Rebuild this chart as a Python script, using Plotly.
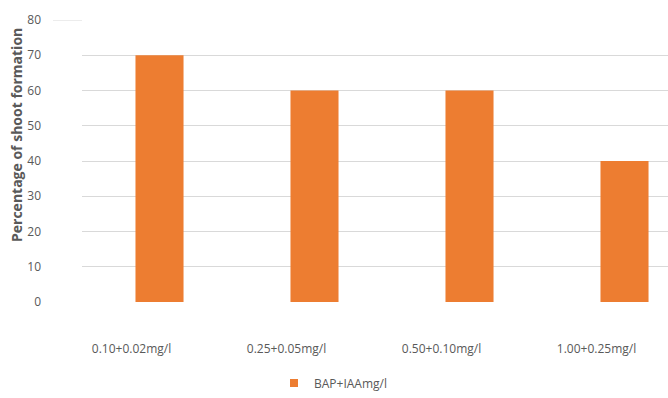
import plotly.graph_objects as go

categories = ["0.10+0.02mg/l", "0.25+0.05mg/l", "0.50+0.10mg/l", "1.00+0.25mg/l"]
values = [70, 60, 60, 40]
series_name = "BAP+IAAmg/l"
y_ticks = [0, 10, 20, 30, 40, 50, 60, 70, 80]

W, H = 668, 398
L, T, B = 82, 20, 96
plot_w = W - L
plot_h = H - T - B
cat_px = 155.0
label_shift = 28 / cat_px  # tick labels sit left of the bars in the reference

font_fam = "Open Sans, Liberation Sans, sans-serif"
gray = "#595959"
bar_color = "#ED7D31"

fig = go.Figure()
fig.add_trace(go.Bar(
    x=categories, y=values, name=series_name,
    marker=dict(color=bar_color, line=dict(width=0)),
    width=0.31, showlegend=False, xaxis="x", yaxis="y",
))
# label-only axis carrier (invisible)
fig.add_trace(go.Scatter(
    x=categories, y=values, mode="none", xaxis="x2", yaxis="y",
    hoverinfo="skip", showlegend=False,
))
# legend entry with a small square swatch
fig.add_trace(go.Scatter(
    x=[categories[0]], y=[None], mode="markers", name=series_name,
    marker=dict(symbol="square", size=8, color=bar_color),
    xaxis="x", yaxis="y", showlegend=True, hoverinfo="skip",
))

x_range = [-0.5, -0.5 + plot_w / cat_px]

fig.update_layout(
    width=W, height=H,
    margin=dict(l=L, r=0, t=T, b=B, pad=0, autoexpand=False),
    paper_bgcolor="white", plot_bgcolor="white",
    font=dict(family=font_fam, size=12, color=gray),
    legend=dict(
        orientation="h", xref="container", yref="container",
        x=274 / W, xanchor="left", y=1 - 383 / H, yanchor="middle",
        font=dict(size=12, color=gray), itemwidth=30,
    ),
    xaxis=dict(
        range=x_range, automargin=False, showticklabels=False,
        showgrid=False, zeroline=False, showline=False, ticks="",
    ),
    xaxis2=dict(
        range=[x_range[0] + label_shift, x_range[1] + label_shift],
        overlaying="x", side="bottom", automargin=False,
        showgrid=False, zeroline=False, showline=False, ticks="",
        ticklabelstandoff=38, tickfont=dict(size=12, color=gray),
    ),
    yaxis=dict(
        range=[0, 80], tickvals=y_ticks, showgrid=True, gridcolor="#D9D9D9",
        gridwidth=1, zeroline=False, showline=False, ticks="", automargin=False,
        ticklabelstandoff=40, tickfont=dict(size=12, color=gray),
    ),
    annotations=[dict(
        text="<b>Percentage of shoot formation</b>", textangle=-90,
        xref="paper", yref="paper", x=(16 - L) / plot_w, y=(T + plot_h - 135) / plot_h,
        xanchor="center", yanchor="middle", showarrow=False,
        font=dict(size=14, color=gray, family=font_fam),
    )],
    shapes=[dict(
        type="line", xref="paper", yref="y", x0=(53 - L) / plot_w, x1=0,
        y0=80, y1=80, line=dict(color="#D9D9D9", width=1),
    )],
)

fig.write_html(
    "out.html",
    config={"displayModeBar": False},
    post_script="document.body.style.margin='0';document.body.style.overflow='hidden';",
)
